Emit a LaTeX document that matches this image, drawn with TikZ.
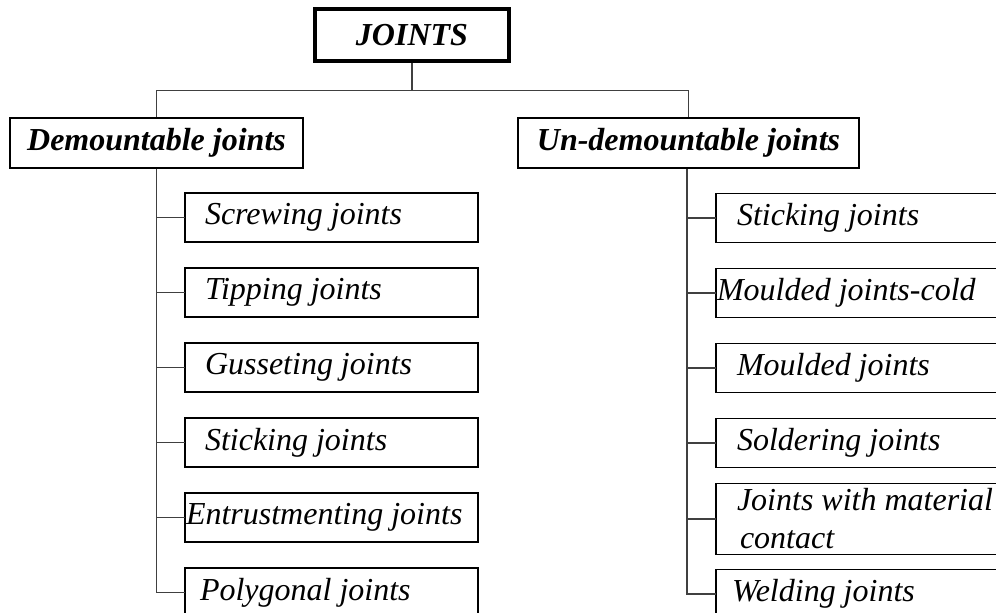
\documentclass[tikz,border=0pt]{standalone}
\usepackage{fontspec}
\setmainfont{Liberation Serif}
\usetikzlibrary{positioning}

\begin{document}
\begin{tikzpicture}[
                            x=0.5pt, y=-0.5pt,
                            node distance=13pt,
                            head/.style={draw, rectangle, line width=1.4pt, inner sep=0pt,
                                minimum height=25pt, font=\fontsize{16}{19}\selectfont\bfseries\itshape},
                            leaf/.style={draw, rectangle, line width=0.9pt, inner xsep=0pt, inner ysep=0pt,
                                outer sep=0pt, minimum height=24.5pt, text width=146.5pt, align=flush left,
                                font=\fontsize{16}{19}\selectfont\itshape},
                            link/.style={draw, black!75, line width=0.6pt}
                            ]

                            \useasboundingbox (0,0) rectangle (996,612);
                            \clip (0,0) rectangle (996,612);

                            \node [head, line width=1.8pt, minimum width=97pt, minimum height=26pt] (root) at (412,35) {JOINTS};
                            \node [head, minimum width=146.5pt] (dem) at (156.5,143) {Demountable joints};
                            \node [head, minimum width=170.5pt] (undem) at (688.5,143) {Un-demountable joints};

                            % demountable branch
                            \node [leaf] (l1) at (331.5,217.5) {\hspace*{10pt}Screwing joints};
                            \node [leaf, below=of l1] (l2) {\hspace*{10pt}Tipping joints};
                            \node [leaf, below=of l2] (l3) {\hspace*{10pt}Gusseting joints};
                            \node [leaf, below=of l3] (l4) {\hspace*{10pt}Sticking joints};
                            \node [leaf, below=of l4] (l5) {\hspace*{0.5pt}Entrustmenting joints};
                            \node [leaf, below=of l5] (l6) {\hspace*{7.5pt}Polygonal joints};

                            % un-demountable branch
                            \node [leaf] (r1) at (862.5,218) {\hspace*{10.5pt}Sticking joints};
                            \node [leaf, below=of r1] (r2) {\hspace*{0.5pt}Moulded joints-cold};
                            \node [leaf, below=of r2] (r3) {\hspace*{10.5pt}Moulded joints};
                            \node [leaf, below=of r3] (r4) {\hspace*{10.5pt}Soldering joints};
                            \node [leaf, below=8pt of r4, minimum height=35.5pt] (r5) {\hspace*{10.5pt}Joints with material\\\hspace*{12pt}contact};
                            \node [leaf, below=7.5pt of r5] (r6) {\hspace*{8pt}Welding joints};

                            \draw[link] (root.south) -- ++(0,28) -| (dem.north);
                            \draw[link] (root.south) -- ++(0,28) -| (undem.north);
                            \foreach \n in {1,...,6}
                                \draw[link] (dem.south) |- (l\n.west);
                            \foreach \n in {1,...,6}
                                \draw[link] (undem.south -| 687,0) |- (r\n.west);
                        \end{tikzpicture}
\end{document}
